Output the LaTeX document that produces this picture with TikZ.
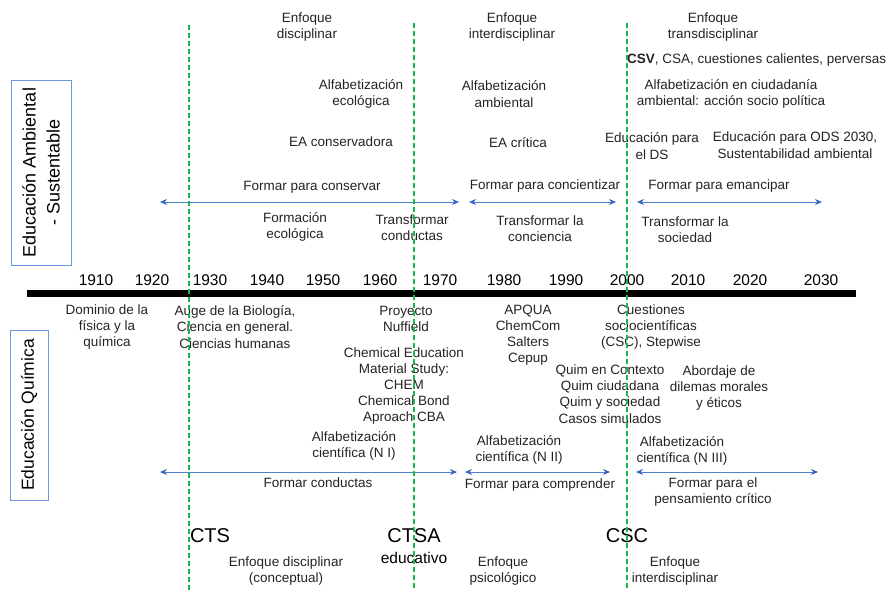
\documentclass[tikz,border=0pt]{standalone}
\usepackage{fontspec}
\setmainfont{Liberation Sans}
\usetikzlibrary{calc, positioning}
\usetikzlibrary{arrows.meta}

\definecolor{arrowblue}{RGB}{82,128,206}
\definecolor{tipblue}{RGB}{55,100,195}
\definecolor{boxblue}{RGB}{110,150,225}
\definecolor{dashgreen}{RGB}{20,185,70}
\definecolor{txtgray}{RGB}{35,35,35}

\tikzset{
  lbl/.style={align=center, inner sep=0pt, text=txtgray, font=\fontsize{13.5}{16.2}\selectfont},
  yearlbl/.style={inner sep=0pt, text=black, font=\fontsize{15.5}{18}\selectfont},
  biglbl/.style={inner sep=0pt, text=black, font=\fontsize{20}{22}\selectfont},
  sidebox/.style={draw=boxblue, line width=0.9pt, rotate=90, align=center, inner sep=0pt, text=black},
  era/.style={dashgreen, line width=2.3pt, dash pattern=on 5pt off 3pt},
  span/.style={arrowblue, line width=0.9pt,
    {Stealth[length=7pt,width=6pt,color=tipblue]}-{Stealth[length=7pt,width=6pt,color=tipblue]}},
}

\begin{document}
\begin{tikzpicture}[x=1pt,y=-1pt]
\useasboundingbox (0,0) rectangle (890,591);

% time axis and era lines
\coordinate (AxL) at (27,293);
\coordinate (AxR) at (856,293);
\coordinate (CtsTop) at (189,25);
\coordinate (CtsBot) at (189,591);
\coordinate (CtsaTop) at (414,23);
\coordinate (CtsaBot) at (414,591);
\coordinate (CscTop) at (627,23);
\coordinate (CscBot) at (627,591);

% spans
\coordinate (EaA) at (160,202);
\coordinate (EaB) at (459,202);
\coordinate (EaC) at (469,202);
\coordinate (EaD) at (616,202);
\coordinate (EaE) at (637,202);
\coordinate (EaF) at (822,202);
\coordinate (EqA) at (160,472);
\coordinate (EqB) at (457,472);
\coordinate (EqC) at (465,472);
\coordinate (EqD) at (610,472);
\coordinate (EqE) at (636,472);
\coordinate (EqF) at (818,472);

\draw[line width=7pt] (AxL) -- (AxR);

\draw[span] (EaA) -- (EaB);
\draw[span] (EaC) -- (EaD);
\draw[span] (EaE) -- (EaF);
\draw[span] (EqA) -- (EqB);
\draw[span] (EqC) -- (EqD);
\draw[span] (EqE) -- (EqF);

% side boxes
\node[sidebox, minimum width=185pt, minimum height=60pt,
      font=\fontsize{18}{24}\selectfont] (ambbox) at (41,172.5)
      {Educación Ambiental\\- Sustentable};
\node[sidebox, minimum width=170pt, minimum height=38pt,
      font=\fontsize{17.5}{20}\selectfont] (quimbox) at (29,415)
      {Educación Química};

% years
\foreach \yr/\xp in {1910/96, 1920/152, 1930/210, 1940/267, 1950/323, 1960/380,
                     1970/440, 1980/504, 1990/566, 2000/627, 2010/688, 2020/750, 2030/821}
  \node[yearlbl] (y\yr) at (\xp,280) {\yr};

% upper band
\node[lbl] (enfdis) at (307,27) {Enfoque\\disciplinar};
\node[lbl] (enfint) at (512,27) {Enfoque\\interdisciplinar};
\node[lbl] (enftrans) at (713,27) {Enfoque\\transdisciplinar};
\node[lbl, anchor=west] (csv) at (627,60) {\textbf{CSV}, CSA, cuestiones calientes, perversas};
\node[lbl] (alfeco) at (361,94) {Alfabetización\\ecológica};
\node[lbl] (alfamb) at (504,94) {Alfabetización\\ambiental};
\node[lbl] (alfciu) at (731,94) {Alfabetización en ciudadanía\\ambiental: acción socio política};
\node[lbl] (eacons) at (341,142) {EA conservadora};
\node[lbl] (eacrit) at (518,143) {EA crítica};
\node[lbl] (edds) at (652,146) {Educación para\\el DS};
\node[lbl] (edods) at (795,145) {Educación para ODS 2030,\\Sustentabilidad ambiental};
\node[lbl] (fcons) at (312,187) {Formar para conservar};
\node[lbl] (fconc) at (545,186) {Formar para concientizar};
\node[lbl] (feman) at (719,186) {Formar para emancipar};
\node[lbl] (formeco) at (295,227) {Formación\\ecológica};
\node[lbl] (trcond) at (412,228) {Transformar\\conductas};
\node[lbl] (trconc) at (540,229) {Transformar la\\conciencia};
\node[lbl] (trsoc) at (685,230) {Transformar la\\sociedad};

% lower band
\node[lbl] (dominio) at (107,327) {Dominio de la\\física y la\\química};
\node[lbl] (auge) at (235,327) {Auge de la Biología,\\Ciencia en general.\\Ciencias humanas};
\node[lbl] (nuffield) at (406,319) {Proyecto\\Nuffield};
\node[lbl] (chem) at (404,386) {Chemical Education\\Material Study:\\CHEM\\Chemical Bond\\Aproach CBA};
\node[lbl] (apqua) at (528,335) {APQUA\\ChemCom\\Salters\\Cepup};
\node[lbl] (cuest) at (651,327) {Cuestiones\\sociocientíficas\\(CSC), Stepwise};
\node[lbl] (quimctx) at (610,394) {Quim en Contexto\\Quim ciudadana\\Quim y sociedad\\Casos simulados};
\node[lbl] (abordaje) at (719,388) {Abordaje de\\dilemas morales\\y éticos};
\node[lbl] (alfn1) at (354,446) {Alfabetización\\científica (N I)};
\node[lbl] (alfn2) at (519,450) {Alfabetización\\científica (N II)};
\node[lbl] (alfn3) at (682,451) {Alfabetización\\científica (N III)};
\node[lbl] (fcondu) at (318,483) {Formar conductas};
\node[lbl] (fcomp) at (540,485) {Formar para comprender};
\node[lbl] (fpens) at (713,492) {Formar para el\\pensamiento crítico};
\node[biglbl] (cts) at (210,536) {CTS};
\node[biglbl] (ctsa) at (414,536) {CTSA};
\node[lbl, text=black, font=\fontsize{15.5}{18}\selectfont] (educativo) at (414,558) {educativo};
\node[biglbl] (csc) at (627,536) {CSC};
\node[lbl] (enfconc) at (286,571) {Enfoque disciplinar\\(conceptual)};
\node[lbl] (enfpsi) at (503,571) {Enfoque\\psicológico};
\node[lbl] (enfint2) at (675,571) {Enfoque\\interdisciplinar};

% era dividers on top
\draw[era] (CtsTop) -- (CtsBot);
\draw[era] (CtsaTop) -- (CtsaBot);
\draw[era] (CscTop) -- (CscBot);
\end{tikzpicture}
\end{document}
